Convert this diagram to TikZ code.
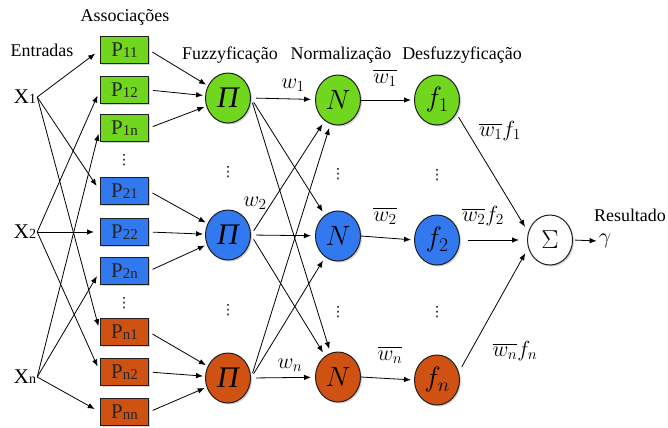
\RequirePackage{fix-cm}
\documentclass[tikz,border=0pt]{standalone}
\usepackage{amsmath}
\usepackage{fontspec}
\setmainfont{Liberation Serif}
\newfontfamily\dejavu{DejaVu Sans}
\usetikzlibrary{shapes.geometric,arrows.meta,shadows}
\definecolor{cgreen}{RGB}{112,214,30}
\definecolor{cblue}{RGB}{50,120,238}
\definecolor{corange}{RGB}{208,82,18}
\definecolor{edge}{RGB}{30,30,30}
\newcommand{\Psub}[1]{P\raisebox{-0.15ex}{\fontsize{15}{15}\selectfont #1}}
\newcommand{\Xsub}[1]{X{\fontsize{14}{14}\selectfont #1}}
\begin{document}
\begin{tikzpicture}[x=1bp,y=-1bp,
  >={Latex[length=7bp,width=5.5bp]},
  arr/.style={->,line width=0.8bp,black},
  pbox/.style={draw=edge,line width=1bp,minimum width=48bp,minimum height=27bp,inner sep=0pt,
     font=\fontsize{21}{22}\selectfont,text=black!85,
     drop shadow={opacity=0.35,shadow xshift=1.5bp,shadow yshift=-1.5bp}},
  circ/.style={ellipse,draw=edge,line width=1bp,minimum width=45bp,minimum height=50bp,inner sep=0pt,
     drop shadow={opacity=0.35,shadow xshift=1.5bp,shadow yshift=-1.5bp}},
  ttl/.style={font=\fontsize{18}{20}\selectfont,inner sep=1bp},
  xl/.style={font=\fontsize{21}{22}\selectfont,inner sep=1bp},
  ml/.style={font=\fontsize{22}{24}\selectfont,inner sep=1bp},
  dt/.style={font=\dejavu\fontsize{14}{14}\selectfont,inner sep=0pt}]
\useasboundingbox (0,0) rectangle (668,427);

% titles
\node[ttl] (tA) at (125,17) {Associações};
\node[ttl] (tE) at (42,50) {Entradas};
\node[ttl] (tF) at (230,55) {Fuzzyficação};
\node[ttl] (tN) at (341,55) {Normalização};
\node[ttl] (tD) at (462,55) {Desfuzzyficação};
\node[ttl,inner sep=0pt] (tR) at (630,215) {Resultado};

% inputs
\node[xl] (x1) at (25,97) {\Xsub{1}};
\node[xl] (x2) at (25,232) {\Xsub{2}};
\node[xl] (xn) at (25,377) {\Xsub{n}};

% P boxes
\node[pbox,fill=cgreen] (p11) at (124.5,50) {\Psub{11}};
\node[pbox,fill=cgreen] (p12) at (124.5,90) {\Psub{12}};
\node[pbox,fill=cgreen] (p1n) at (124.5,128) {\Psub{1n}};
\node[pbox,fill=cblue] (p21) at (124.5,191) {\Psub{21}};
\node[pbox,fill=cblue] (p22) at (124.5,232) {\Psub{22}};
\node[pbox,fill=cblue] (p2n) at (124.5,271) {\Psub{2n}};
\node[pbox,fill=corange] (pn1) at (124.5,332) {\Psub{n1}};
\node[pbox,fill=corange] (pn2) at (124.5,372) {\Psub{n2}};
\node[pbox,fill=corange] (pnn) at (124.5,412) {\Psub{nn}};
\node[dt] (d1) at (124,160) {⋮};
\node[dt] (d2) at (124,303) {⋮};

% Pi
\node[circ,fill=cgreen] (pi1) at (228,98) {\fontsize{30}{30}\selectfont\itshape Π};
\node[circ,fill=cblue] (pi2) at (228,235) {\fontsize{30}{30}\selectfont\itshape Π};
\node[circ,fill=corange] (pin) at (228,378) {\fontsize{30}{30}\selectfont\itshape Π};
\node[dt] (d3) at (228,172) {⋮};
\node[dt] (d4) at (228,310) {⋮};

% N
\node[circ,fill=cgreen] (n1) at (338,100) {\fontsize{28}{28}\selectfont$N$};
\node[circ,fill=cblue] (n2) at (338,236) {\fontsize{28}{28}\selectfont$N$};
\node[circ,fill=corange] (nn) at (338,377) {\fontsize{28}{28}\selectfont$N$};
\node[dt] (d5) at (338,174) {⋮};
\node[dt] (d6) at (338,312) {⋮};

% f
\node[circ,fill=cgreen] (f1) at (437,100) {\fontsize{28}{28}\selectfont$f_1$};
\node[circ,fill=cblue] (f2) at (437,240) {\fontsize{28}{28}\selectfont$f_2$};
\node[circ,fill=corange] (fn) at (437,380) {\fontsize{28}{28}\selectfont$f_n$};
\node[dt] (d7) at (437,175) {⋮};
\node[dt] (d8) at (437,312) {⋮};

% Sigma
\node[circ,fill=white] (S) at (550,240) {\fontsize{26}{26}\selectfont$\Sigma$};
\node[ml,inner sep=0pt] (g) at (605,241) {$\gamma$};

% X -> P
\foreach \s/\t in {x1/p11,x1/p21,x1/pn1,x2/p12,x2/p22,x2/pn2,xn/p1n,xn/p2n,xn/pnn}
  \draw[arr,shorten >=6bp] (\s.east) -- (\t.west);

% P -> Pi
\foreach \s/\t in {p11/pi1,p12/pi1,p1n/pi1,p21/pi2,p22/pi2,p2n/pi2,pn1/pin,pn2/pin,pnn/pin}
  \draw[arr,shorten <=4bp,shorten >=2bp] (\s.east) -- (\t);

% Pi -> N
\foreach \s in {pi1,pi2,pin}
  \foreach \t in {n1,n2,nn}
    \draw[arr,shorten <=5bp,shorten >=4bp] (\s.east) -- (\t);

% N -> f
\draw[arr,shorten >=3bp] (n1.east) -- (f1.west);
\draw[arr,shorten >=3bp] (n2.east) -- (f2.west);
\draw[arr,shorten >=3bp] (nn.east) -- (fn.west);

% f -> Sigma
\draw[arr,shorten <=4bp,shorten >=6bp] (f1.-35) -- (S.160);
\draw[arr,shorten <=8bp,shorten >=8bp] (f2.east) -- (S.west);
\draw[arr,shorten <=6bp,shorten >=6bp] (fn.20) -- (S.200);
\draw[arr,shorten <=2bp,shorten >=2bp] (S.east) -- (g.west);

% labels
\node[ml] (lw1) at (293,85) {$w_1$};
\node[ml] (lw2) at (255,203) {$w_2$};
\node[ml] (lwn) at (290,365) {$w_n$};
\node[ml] (lb1) at (385,78) {$\overline{w_1}$};
\node[ml] (lb2) at (385,216) {$\overline{w_2}$};
\node[ml] (lbn) at (390,355) {$\overline{w_n}$};
\node[ml] (lf1) at (500,131) {$\overline{w_1}f_1$};
\node[ml] (lf2) at (483,216) {$\overline{w_2}f_2$};
\node[ml] (lfn) at (515,351) {$\overline{w_n}f_n$};
\end{tikzpicture}
\end{document}
